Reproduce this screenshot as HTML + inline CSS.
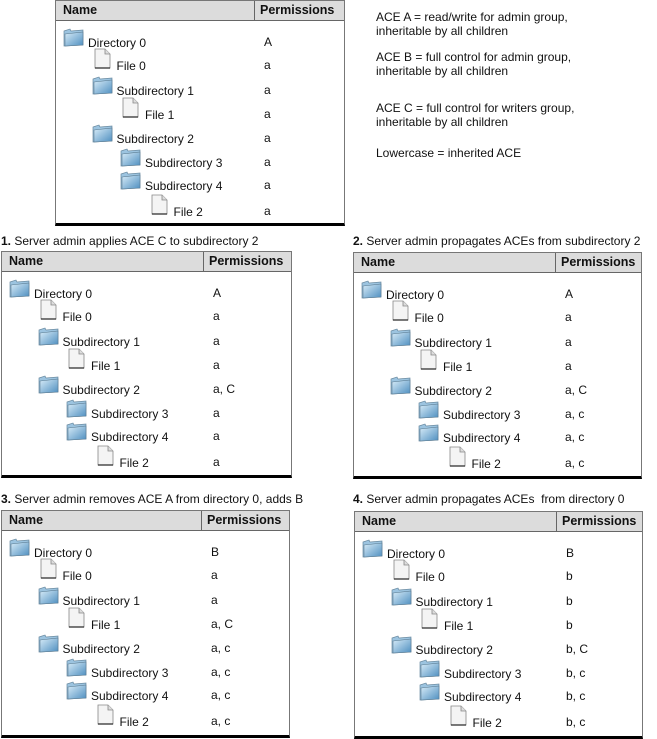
<!DOCTYPE html>
<html><head><meta charset="utf-8">
<style>
body{margin:0;width:657px;height:738px;background:#fff;position:relative;font-family:"Liberation Sans",Arial,sans-serif;font-size:12px;color:#111;overflow:hidden}
.panel{position:absolute;border:1px solid #777;border-bottom:3px solid #000;background:#fff;box-sizing:border-box}
.hdr{position:absolute;left:0;right:0;top:0;height:19px;background:#dcdcdc;border-bottom:1px solid #666;font-weight:bold;font-size:12.5px}
.hdr span{position:absolute;top:2px}
.hdr .sep{position:absolute;top:0;bottom:0;width:1px;background:#666}
.t{position:absolute;white-space:nowrap}
.title{position:absolute;white-space:nowrap;font-size:12px}
.note{position:absolute;left:376px;font-size:12px;line-height:14px}
</style></head><body>
<div class="note" style="top:10px">ACE A = read/write for admin group,<br>inheritable by all children</div>
<div class="note" style="top:50px">ACE B = full control for admin group,<br>inheritable by all children</div>
<div class="note" style="top:101px">ACE C = full control for writers group,<br>inheritable by all children</div>
<div class="note" style="top:146px">Lowercase = inherited ACE</div>
<div class="title" style="left:1px;top:234px"><b>1.</b> Server admin applies ACE C to subdirectory 2</div>
<div class="title" style="left:353px;top:234px"><b>2.</b> Server admin propagates ACEs from subdirectory 2</div>
<div class="title" style="left:1px;top:492px"><b>3.</b> Server admin removes ACE A from directory 0, adds B</div>
<div class="title" style="left:353px;top:492px"><b>4.</b> Server admin propagates ACEs &nbsp;from directory 0</div>
<script>
const names=["Directory 0","File 0","Subdirectory 1","File 1","Subdirectory 2","Subdirectory 3","Subdirectory 4","File 2"];
const levels=[0,1,1,2,1,2,2,3];
const isFolder=[1,0,1,0,1,1,1,0];
const rowY=[43,66,91,115,139,163,186,212];
const perms=[
 ["A","a","a","a","a","a","a","a"],
 ["A","a","a","a","a, C","a","a","a"],
 ["A","a","a","a","a, C","a, c","a, c","a, c"],
 ["B","a","a","a, C","a, c","a, c","a, c","a, c"],
 ["B","b","b","b","b, C","b, c","b, c","b, c"]
];
const panels=[[55,0,290,226,199],[1,251,291,227,202],[353,252,289,227,202],[1,510,289,228,200],[354,511,289,228,202]];
const folderSvg='<svg width="21" height="19" viewBox="0 0 21 19"><defs><linearGradient id="fg" x1="0" y1="0" x2="1" y2="1"><stop offset="0" stop-color="#d8ecf8"/><stop offset="1" stop-color="#4f8fc0"/></linearGradient></defs><path d="M1 3 L7 1 L8 3 L20 2 L20 17 L1 18 Z" fill="#9cc4e0" stroke="#6a8aa0" stroke-width="0.7"/><path d="M2 6 L20 4 L20 17 L2 18 Z" fill="url(#fg)" stroke="#5a7a90" stroke-width="0.6"/></svg>';
const fileSvg='<svg width="17" height="21" viewBox="0 0 17 21"><path d="M1 1 L11 1 L16 6 L16 20 L1 20 Z" fill="#f4f4f4" stroke="#888" stroke-width="0.8"/><path d="M11 1 L11 6 L16 6" fill="#ddd" stroke="#888" stroke-width="0.8"/><line x1="1" y1="20" x2="16" y2="20" stroke="#222" stroke-width="1.2"/></svg>';
panels.forEach((p,pi)=>{
 const d=document.createElement('div');
 d.className='panel';
 
 
 d.style.cssText=`left:${p[0]}px;top:${p[1]}px;width:${p[2]}px;height:${p[3]}px`;
 let h=`<div class="hdr"><span style="left:7px">Name</span><div class="sep" style="left:${p[4]-1}px"></div><span style="left:${p[4]+5}px">Permissions</span></div>`;
 d.innerHTML=h;
 names.forEach((n,i)=>{
  const ind=levels[i]*28.5;
  const ic=document.createElement('div');
  ic.className='t';
  
  
  ic.style.left=(7+ind+(isFolder[i]?0:2))+'px';
  ic.style.top=(rowY[i]-(isFolder[i]?16:19))+'px';
  ic.innerHTML=isFolder[i]?folderSvg:fileSvg;
  d.appendChild(ic);
  const t=document.createElement('div');
  t.className='t';
  
  
  t.style.left=(32+ind)+'px';t.style.top=(rowY[i]-8)+'px';
  t.textContent=n;d.appendChild(t);
  const q=document.createElement('div');
  q.className='t';
  
  
  q.style.left=(p[4]+9)+'px';q.style.top=(rowY[i]-9)+'px';
  q.textContent=perms[pi][i];d.appendChild(q);
 });
 document.body.appendChild(d);
});
</script>
</body></html>
